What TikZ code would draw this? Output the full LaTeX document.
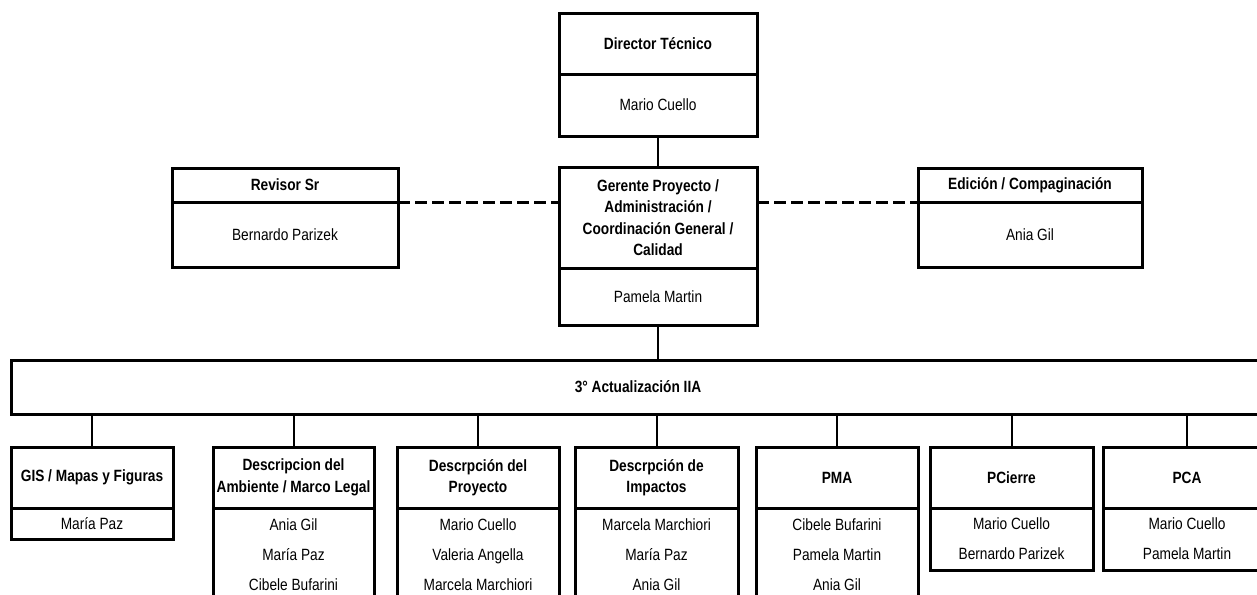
\documentclass[tikz,border=0pt]{standalone}
\usepackage{fontspec}
\setmainfont{Liberation Sans}[FakeStretch=0.84]
\tikzset{
  hdr/.style={draw, line width=3pt, inner sep=0pt, outer sep=0pt, align=center,
    font=\fontsize{16.3}{21.5}\selectfont\bfseries, anchor=north west},
  body/.style={draw, line width=3pt, inner sep=0pt, outer sep=0pt, align=center,
    font=\fontsize{16.3}{30}\selectfont, anchor=north},
  conn/.style={line width=2pt},
  dashconn/.style={line width=3pt, dash pattern=on 12pt off 5pt},
}
\begin{document}
\begin{tikzpicture}[x=1pt,y=-1pt]
    \useasboundingbox (0,0) rectangle (1257,594);
    % top of the chart
    \node[hdr, minimum width=198pt, minimum height=60pt] (dir) at (559,14) {Director Técnico};
    \node[body, minimum width=198pt, minimum height=62pt] (dirN) at (dir.south) {Mario Cuello};
    \node[hdr, minimum width=198pt, minimum height=101pt] (ger) at (559,167)
        {Gerente Proyecto /\\Administración /\\Coordinación General /\\Calidad};
    \node[body, minimum width=198pt, minimum height=57pt] (gerN) at (ger.south) {Pamela Martin};
    \node[hdr, minimum width=226pt, minimum height=34pt] (rev) at (172,168) {Revisor Sr};
    \node[body, minimum width=226pt, minimum height=65pt] (revN) at (rev.south) {Bernardo Parizek};
    \node[hdr, minimum width=224pt, minimum height=34pt] (edi) at (918,168) {Edición / Compaginación};
    \node[body, minimum width=224pt, minimum height=65pt] (ediN) at (edi.south) {Ania Gil};
    \draw[conn] (dirN.south) -- (ger.north);
    \draw[dashconn] (rev.south east) -- (rev.south east -| ger.west);
    \draw[dashconn] (ger.east |- edi.south west) -- (edi.south west);

    % bar
    \node[hdr, minimum width=1254pt, minimum height=54pt] (bar) at (11,360) {3° Actualización IIA};
    \draw[conn] (gerN.south) -- (bar.north -| gerN.south);

    % teams
    \node[hdr, minimum width=162pt, minimum height=61pt] (gis) at (11,447) {GIS / Mapas y Figuras};
    \node[body, minimum width=162pt, minimum height=31pt] (gisN) at (gis.south) {María Paz};
    \node[hdr, minimum width=161pt, minimum height=61pt] (amb) at (213,447) {Descripcion del\\Ambiente / Marco Legal};
    \node[body, minimum width=161pt, minimum height=93pt] (ambN) at (amb.south) {Ania Gil\\María Paz\\Cibele Bufarini};
    \node[hdr, minimum width=162pt, minimum height=61pt] (pro) at (397,447) {Descrpción del\\Proyecto};
    \node[body, minimum width=162pt, minimum height=93pt] (proN) at (pro.south) {Mario Cuello\\Valeria Angella\\Marcela Marchiori};
    \node[hdr, minimum width=163pt, minimum height=61pt] (imp) at (575,447) {Descrpción de\\Impactos};
    \node[body, minimum width=163pt, minimum height=93pt] (impN) at (imp.south) {Marcela Marchiori\\María Paz\\Ania Gil};
    \node[hdr, minimum width=162pt, minimum height=61pt] (pma) at (756,447) {PMA};
    \node[body, minimum width=162pt, minimum height=93pt] (pmaN) at (pma.south) {Cibele Bufarini\\Pamela Martin\\Ania Gil};
    \node[hdr, minimum width=163pt, minimum height=61pt] (pci) at (930,447) {PCierre};
    \node[body, minimum width=163pt, minimum height=62pt] (pciN) at (pci.south) {Mario Cuello\\Bernardo Parizek};
    \node[hdr, minimum width=168pt, minimum height=61pt] (pca) at (1103,447) {PCA};
    \node[body, minimum width=168pt, minimum height=62pt] (pcaN) at (pca.south) {Mario Cuello\\Pamela Martin};
    \foreach \n in {gis,amb,pro,imp,pma,pci,pca}
        \draw[conn] (bar.south -| \n.north) -- (\n.north);
\end{tikzpicture}
\end{document}
